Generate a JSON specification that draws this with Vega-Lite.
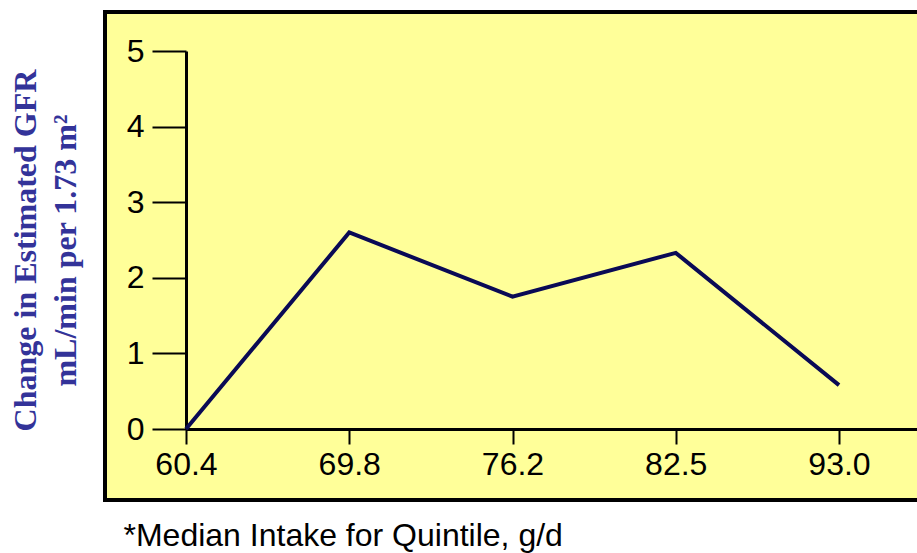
{
  "$schema": "https://vega.github.io/schema/vega-lite/v6.json",
  "autosize": "none",
  "width": 830,
  "height": 488,
  "padding": {"left": 105, "top": 12, "right": -18, "bottom": 53},
  "background": "#ffffff",
  "config": {
    "view": {"fill": "#FFFF99", "stroke": "#000000", "strokeWidth": 4},
    "axis": {"grid": false, "domainColor": "#000000", "tickColor": "#000000", "labelColor": "#000000", "labelFont": "Liberation Sans", "labelFontSize": 32}
  },
  "data": {
    "values": [
      {"intake": "60.4", "change": 0},
      {"intake": "69.8", "change": 2.6},
      {"intake": "76.2", "change": 1.75},
      {"intake": "82.5", "change": 2.33},
      {"intake": "93.0", "change": 0.58}
    ]
  },
  "mark": {"type": "line", "color": "#0a0a55", "strokeWidth": 4},
  "encoding": {
    "x": {
      "field": "intake",
      "type": "ordinal",
      "sort": null,
      "scale": {"type": "point", "range": [81, 830], "padding": 0.294, "align": 0},
      "axis": {
        "orient": "bottom",
        "offset": -71,
        "labelAngle": 0,
        "domainWidth": 3,
        "tickWidth": 2,
        "tickSize": 15,
        "labelPadding": 5,
        "title": "*Median Intake for Quintile, g/d",
        "titleFont": "Liberation Sans",
        "titleFontSize": 32,
        "titleFontWeight": "normal",
        "titleColor": "#000000",
        "titleAlign": "left",
        "titleAnchor": "start",
        "titleX": 18,
        "titleY": 116,
        "titleBaseline": "alphabetic"
      }
    },
    "y": {
      "field": "change",
      "type": "quantitative",
      "scale": {"domain": [0, 5], "range": [417, 39], "nice": false, "zero": true},
      "axis": {
        "orient": "left",
        "offset": -81,
        "values": [0, 1, 2, 3, 4, 5],
        "domainWidth": 3,
        "tickWidth": 2,
        "tickSize": 34,
        "labelPadding": 8,
        "title": ["Change in Estimated GFR", "mL/min per 1.73 m²"],
        "titleFont": "Liberation Serif",
        "titleFontSize": 32,
        "titleFontWeight": "bold",
        "titleColor": "#333399",
        "titleLineHeight": 40,
        "titleAngle": -90,
        "titleAlign": "center",
        "titleBaseline": "middle",
        "titleX": -161,
        "titleY": 238
      }
    }
  }
}
